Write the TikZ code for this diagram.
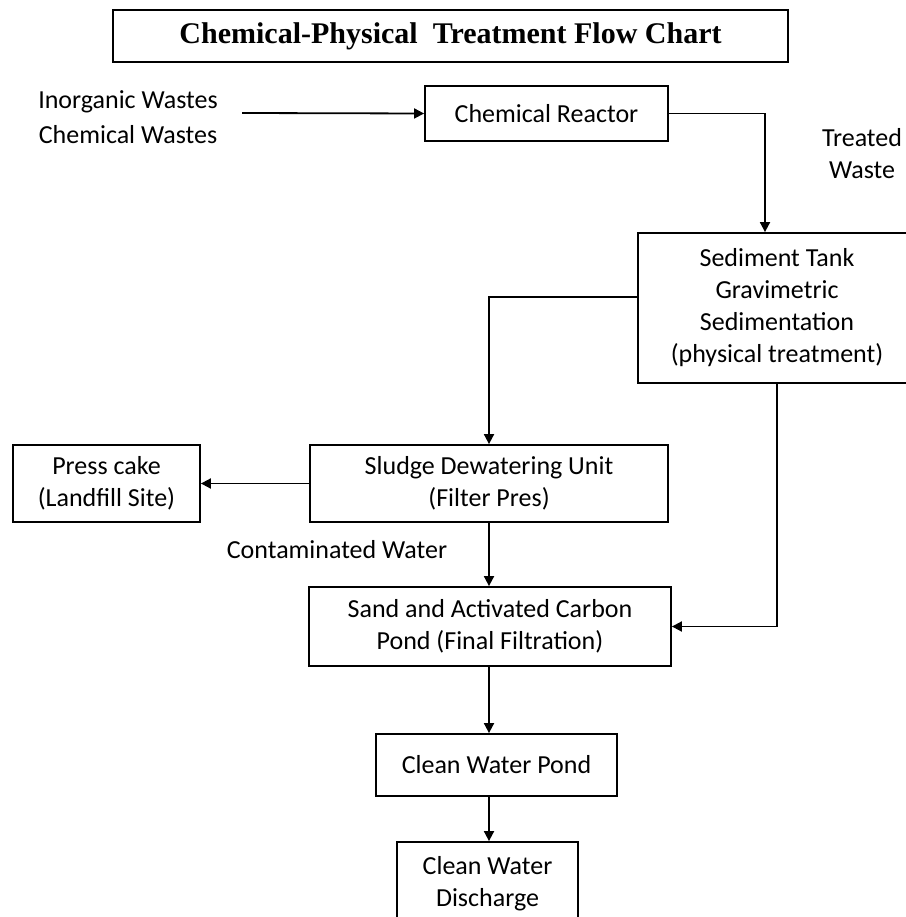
\documentclass[tikz,border=0pt]{standalone}
\usepackage{fontspec}
\setmainfont{Carlito}
\newfontfamily\titlefont{Liberation Serif}
\usetikzlibrary{arrows.meta}

\begin{document}
\begin{tikzpicture}[x=1pt, y=-1pt,
    box/.style={draw, line width=1.8pt, align=center, inner sep=0pt,
      font=\fontsize{26}{32}\selectfont},
    lbl/.style={align=center, inner sep=0pt, font=\fontsize{26}{32}\selectfont},
    arr/.style={line width=1.8pt, -{Triangle[length=10pt, width=10pt]}}]
    \useasboundingbox (0,0) rectangle (905,917);
    % boxes
    \node[box, minimum width=675pt, minimum height=52pt,
      font=\titlefont\bfseries\fontsize{30}{34}\selectfont] (title) at (450.5,36)
      {Chemical-Physical\ \ Treatment Flow Chart};
    \node[box, minimum width=243pt, minimum height=55pt] (reactor) at (546.5,113.5) {Chemical Reactor};
    \node[box, minimum width=278pt, minimum height=150pt] (tank) at (777,308)
      {Sediment Tank\\Gravimetric\\Sedimentation\\(physical treatment)};
    \node[box, minimum width=187pt, minimum height=77pt] (press) at (106.5,483.5) {Press cake\\(Landfill Site)};
    \node[box, minimum width=358pt, minimum height=77pt] (sludge) at (489,483.5) {Sludge Dewatering Unit\\(Filter Pres)};
    \node[box, minimum width=362pt, minimum height=79pt] (sand) at (490,626.5)
      {Sand and Activated Carbon\\Pond (Final Filtration)};
    \node[box, minimum width=241pt, minimum height=62pt] (pond) at (496.5,765) {Clean Water Pond};
    \node[box, minimum width=181pt, minimum height=84pt] (discharge) at (487.5,884) {Clean Water\\Discharge};
    % labels
    \node[lbl] (inputs) at (128,117) {Inorganic Wastes\\[3pt]Chemical Wastes};
    \node[lbl] (treated) at (862,154) {Treated\\Waste};
    \node[lbl] (contam) at (337,550) {Contaminated Water};
    \coordinate (in) at (242,113);
    % flow
    \draw[arr] (in) -- (reactor.west);
    \draw[arr] (reactor.east) -| ([xshift=-12pt]tank.north);
    \draw[arr] ([yshift=11pt]tank.west) -| (sludge.north);
    \draw[arr] (tank.south) |- (sand.east);
    \draw[arr] (sludge.west) -- (press.east);
    \draw[arr] (sludge.south) -- (sludge.south |- sand.north);
    \draw[arr] (sludge.south |- sand.south) -- (sludge.south |- pond.north);
    \draw[arr] (sludge.south |- pond.south) -- (sludge.south |- discharge.north);
\end{tikzpicture}
\end{document}
